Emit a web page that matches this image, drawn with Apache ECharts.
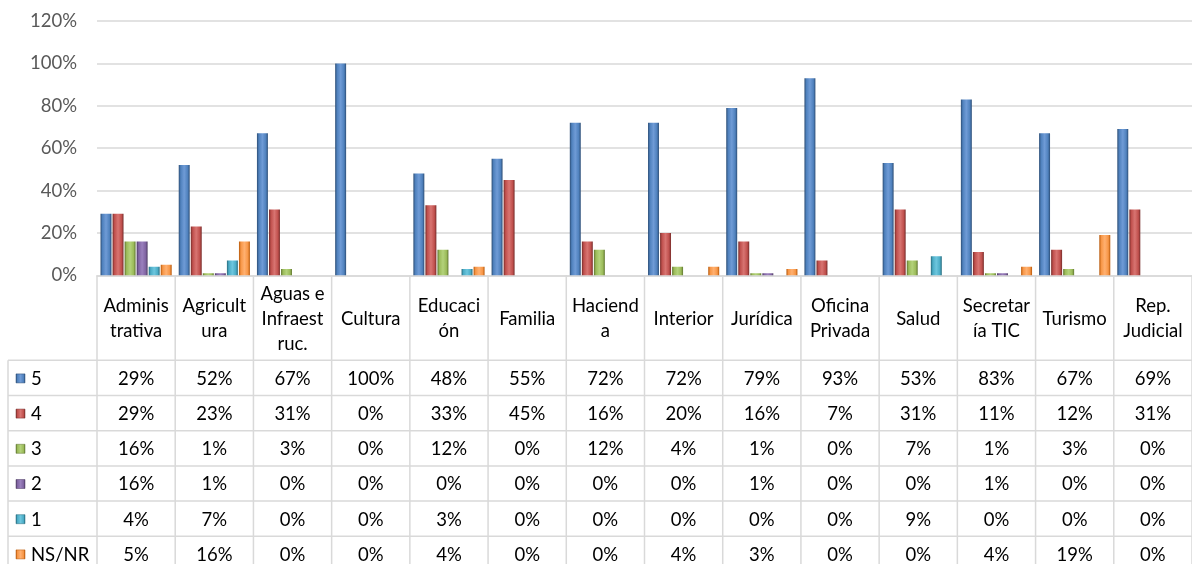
<!DOCTYPE html>
<html><head><meta charset="utf-8">
<script src="https://cdn.jsdelivr.net/npm/echarts@6/dist/echarts.min.js"></script>
<style>html,body{margin:0;padding:0;background:#fff}#c{width:1192px;height:564px}</style>
</head><body><div id="c"></div>
<script>
const categories = ['Administrativa','Agricultura','Aguas e Infraestruc.','Cultura','Educación','Familia','Hacienda','Interior','Jurídica','Oficina Privada','Salud','Secretaría TIC','Turismo','Rep. Judicial'];
const categoryLabels = ['Adminis\ntrativa','Agricult\nura','Aguas e\nInfraest\nruc.','Cultura','Educaci\nón','Familia','Haciend\na','Interior','Jurídica','Oficina\nPrivada','Salud','Secretar\nía TIC','Turismo','Rep.\nJudicial'];
const seriesNames = ['5','4','3','2','1','NS/NR'];
const s5   = [29,52,67,100,48,55,72,72,79,93,53,83,67,69];
const s4   = [29,23,31,0,33,45,16,20,16,7,31,11,12,31];
const s3   = [16,1,3,0,12,0,12,4,1,0,7,1,3,0];
const s2   = [16,1,0,0,0,0,0,0,1,0,0,1,0,0];
const s1   = [4,7,0,0,3,0,0,0,0,0,9,0,0,0];
const sNS  = [5,16,0,0,4,0,0,4,3,0,0,4,19,0];
const seriesData = [s5,s4,s3,s2,s1,sNS];
const yTicks = [0,20,40,60,80,100,120];

const baseColors = ['#4F81BD','#C0504D','#9BBB59','#8064A2','#4BACC6','#F79646'];
const darkColors = ['#2C4D75','#772C2A','#5F7530','#4D3B62','#276A7C','#B65708'];
const lightColors = ['#6F9BD6','#D87471','#B3D27A','#9A80BD','#6DC6DE','#FFB070'];
function grad(i){
  return new echarts.graphic.LinearGradient(0,0,1,0,[
    {offset:0,color:darkColors[i]},
    {offset:0.18,color:baseColors[i]},
    {offset:0.5,color:lightColors[i]},
    {offset:0.82,color:baseColors[i]},
    {offset:1,color:darkColors[i]}
  ]);
}
const FONT = 'Lato';
const FS = 18.5;
const chart = echarts.init(document.getElementById('c'));
const option = {
  animation:false,
  backgroundColor:'#fff',
  grid:{left:97, top:21, width:1100, height:254.3, containLabel:false},
  xAxis:{type:'category', data:categories, axisLine:{show:true,lineStyle:{color:'#D9D9D9',width:1.5}}, axisTick:{show:false}, axisLabel:{show:false}},
  yAxis:{type:'value', min:0, max:120, interval:20,
    axisLine:{show:false}, axisTick:{show:false},
    splitLine:{lineStyle:{color:'#D9D9D9',width:1.5}},
    axisLabel:{formatter:'{value}%', color:'#595959', fontFamily:FONT, fontSize:FS, margin:20}},
  series: seriesNames.map((n,i)=>({
    name:n, type:'bar', data:seriesData[i].map(v=>v===0?null:v), barGap:'10%', barCategoryGap:'9%',
    itemStyle:{color:grad(i)}
  }))
};
chart.setOption(option);

const p0 = chart.convertToPixel({gridIndex:0},[0,0]);
const p1 = chart.convertToPixel({gridIndex:0},[1,0]);
const cw = p1[0]-p0[0];
const baseY = p0[1];
const left0 = p0[0]-cw/2;
const headerH = 85;
const rowH = 35.2;
const tableLeft = 8;
const W = 1192;
const lineColor = '#D9D9D9';
const els = [];
for(let i=0;i<=categories.length;i++){
  const x = left0 + i*cw;
  els.push({type:'line', shape:{x1:x,y1:baseY,x2:x,y2:baseY+headerH+rowH*6+2}, style:{stroke:lineColor,lineWidth:1.5}});
}
els.push({type:'line', shape:{x1:tableLeft,y1:baseY+headerH,x2:tableLeft,y2:baseY+headerH+rowH*6+2}, style:{stroke:lineColor,lineWidth:1.5}});
for(let r=0;r<=6;r++){
  const y = baseY+headerH+r*rowH;
  els.push({type:'line', shape:{x1:tableLeft,y1:y,x2:W+10,y2:y}, style:{stroke:lineColor,lineWidth:1.5}});
}
categoryLabels.forEach((lab,i)=>{
  els.push({type:'text', x:left0+(i+0.5)*cw, y:baseY+headerH/2+1, style:{text:lab, fill:'#000', font:FS+'px '+FONT, align:'center', verticalAlign:'middle', lineHeight:25}});
});
seriesNames.forEach((n,r)=>{
  const cy = baseY+headerH+(r+0.5)*rowH+1;
  els.push({type:'rect', shape:{x:16,y:cy-5,width:9,height:9}, style:{fill:grad(r), stroke:darkColors[r], lineWidth:0.5}});
  els.push({type:'text', x:31, y:cy, style:{text:n, fill:'#000', font:FS+'px '+FONT, align:'left', verticalAlign:'middle'}});
  seriesData[r].forEach((v,i)=>{
    els.push({type:'text', x:left0+(i+0.5)*cw, y:cy, style:{text:v+'%', fill:'#000', font:FS+'px '+FONT, align:'center', verticalAlign:'middle'}});
  });
});
chart.setOption({graphic:{elements:els}});
</script></body></html>
